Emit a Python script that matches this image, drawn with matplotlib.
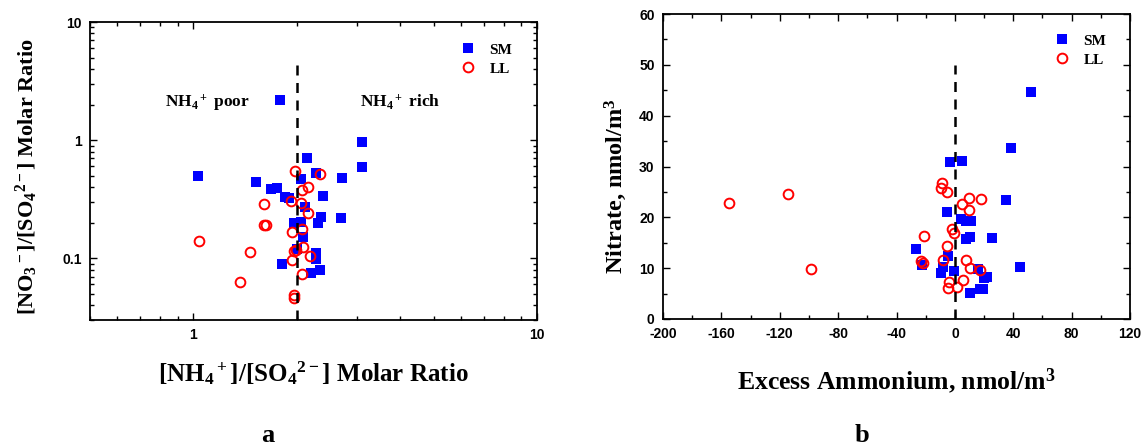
import matplotlib
matplotlib.use("Agg")
import matplotlib.pyplot as plt
from matplotlib.ticker import LogLocator, NullFormatter, FixedLocator, MultipleLocator, FixedFormatter
import numpy as np

# ---------------- data: panel a ----------------
sm_a_x = [1.79, 3.10, 2.14, 3.10, 2.28, 2.71, 2.06, 1.03, 1.52, 1.75, 1.68, 1.85, 1.90,
          2.38, 2.11, 2.35, 2.68, 2.31, 1.96, 2.05, 2.09, 2.00, 2.27, 2.27, 1.81, 2.20, 2.34]
sm_a_y = [2.18, 0.956, 0.70, 0.587, 0.53, 0.48, 0.465, 0.50, 0.443, 0.394, 0.382, 0.331, 0.325,
          0.335, 0.272, 0.225, 0.217, 0.198, 0.197, 0.203, 0.150, 0.12, 0.11, 0.099, 0.089, 0.075, 0.079]
ll_a_x = [1.97, 2.33, 2.16, 2.07, 1.61, 1.92, 2.06, 2.15, 1.60, 1.63, 2.07, 1.93, 1.04,
          1.46, 1.96, 1.99, 1.93, 2.09, 2.18, 2.07, 1.37, 1.96, 1.96]
ll_a_y = [0.55, 0.52, 0.40, 0.375, 0.288, 0.306, 0.296, 0.24, 0.193, 0.190, 0.176, 0.167, 0.140,
          0.113, 0.115, 0.118, 0.096, 0.124, 0.105, 0.074, 0.063, 0.0485, 0.046]

# ---------------- data: panel b ----------------
sm_b_x = [51.9, 38.4, -3.4, 4.6, 35.0, -5.5, 4.1, 7.3, 11.0, 7.5, 10.3, 25.1, -26.5, -5.0,
          -22.6, 44.3, -8.0, -0.9, -9.8, 16.0, 20.1, 22.2, 10.7, 17.1, 19.4]
sm_b_y = [44.7, 33.6, 30.9, 31.0, 23.4, 21.0, 19.6, 19.3, 19.3, 15.8, 16.1, 15.9, 13.8, 12.3,
          10.7, 10.3, 10.2, 9.5, 9.0, 9.8, 8.1, 8.2, 5.2, 5.9, 5.9]
ll_b_x = [-9.1, -9.8, -5.3, 9.8, 18.1, 4.8, 9.4, -1.8, -0.7, -21.0, -5.3, -7.8, -23.3, -21.5,
          7.5, 10.3, 17.4, 5.3, -4.3, -4.6, 1.4, -154.5, -114.5, -98.5]
ll_b_y = [26.7, 25.8, 24.9, 23.9, 23.7, 22.6, 21.5, 17.8, 16.9, 16.3, 14.4, 11.7, 11.5, 11.1,
          11.7, 10.0, 9.6, 7.7, 7.2, 6.1, 6.2, 22.8, 24.6, 9.9]

series_names = ["SM", "LL"]
xticks_a = [1, 10]
yticks_a = [0.1, 1, 10]
xticks_b = [-200, -160, -120, -80, -40, 0, 40, 80, 120]
yticks_b = [0, 10, 20, 30, 40, 50, 60]

plt.rcParams['font.family'] = ['Liberation Sans', 'DejaVu Sans']
plt.rcParams['font.weight'] = 'bold'
plt.rcParams['mathtext.fontset'] = 'custom'
plt.rcParams['mathtext.rm'] = 'Liberation Serif:bold'
plt.rcParams['mathtext.it'] = 'Liberation Serif:bold'
plt.rcParams['mathtext.bf'] = 'Liberation Serif:bold'
plt.rcParams['axes.unicode_minus'] = False

SERIF = dict(family='Liberation Serif', weight='bold')

fig = plt.figure(figsize=(11.42, 4.47), dpi=100)
W, H = 1142, 447

def px_axes(l, t, r, b):
    return fig.add_axes([l / W, 1 - b / H, (r - l) / W, (b - t) / H])

ax1 = px_axes(90, 22, 537, 320)
ax2 = px_axes(663, 14, 1130, 319)

sq = dict(marker='s', linestyle='none', color='#0000ff', markersize=7, markeredgewidth=0)
ci = dict(marker='o', linestyle='none', markerfacecolor='none', markeredgecolor='#ff0000',
          markersize=7, markeredgewidth=1.4)

def style(ax):
    for s in ax.spines.values():
        s.set_linewidth(1.3)
    ax.tick_params(which='both', direction='in', top=True, right=True, width=1.0,
                   labelsize=10, pad=6)
    ax.tick_params(which='major', length=5)
    ax.tick_params(which='minor', length=3)

# ---------------- panel a ----------------
ax1.plot(sm_a_x, sm_a_y, label=series_names[0], **sq)
ax1.plot(ll_a_x, ll_a_y, label=series_names[1], **ci)
ax1.plot([2, 2], [0.03, 4.5], color='black', linestyle=(0, (4, 3)), linewidth=1.8)
ax1.set_xscale('log')
ax1.set_yscale('log')
ax1.set_xlim(0.5, 10)
ax1.set_ylim(0.03, 10)
ax1.xaxis.set_major_locator(FixedLocator(xticks_a))
ax1.xaxis.set_major_formatter(FixedFormatter([str(v) for v in xticks_a]))
ax1.xaxis.set_minor_locator(LogLocator(base=10, subs=np.arange(2, 10)))
ax1.xaxis.set_minor_formatter(NullFormatter())
ax1.yaxis.set_major_locator(FixedLocator(yticks_a))
ax1.yaxis.set_major_formatter(FixedFormatter(['0.1', '1', '10']))
ax1.yaxis.set_minor_locator(LogLocator(base=10, subs=np.arange(2, 10)))
ax1.yaxis.set_minor_formatter(NullFormatter())
style(ax1)
ax1.set_xlabel(r'[NH$_4{}^+$]/[SO$_4{}^{2-}$] Molar Ratio', fontsize=18, labelpad=12, **SERIF)
ax1.set_ylabel(r'[NO$_3{}^-$]/[SO$_4{}^{2-}$] Molar Ratio', fontsize=16, **SERIF)
ax1.yaxis.set_label_coords(-0.112, 0.4815)
ax1.text(0.168, 0.715, r'NH$_4{}^+$ poor', transform=ax1.transAxes, fontsize=12.5, va='baseline', **SERIF)
ax1.text(0.604, 0.715, r'NH$_4{}^+$ rich', transform=ax1.transAxes, fontsize=12.5, va='baseline', **SERIF)
ax1.legend(loc='upper left', bbox_to_anchor=(0.812, 0.955), frameon=False,
           prop=dict(family='Liberation Serif', weight='bold', size=11),
           handlelength=1.0, handletextpad=0.9, labelspacing=0.35, borderpad=0)

# ---------------- panel b ----------------
ax2.plot(sm_b_x, sm_b_y, label=series_names[0], **sq)
ax2.plot(ll_b_x, ll_b_y, label=series_names[1], **ci)
ax2.plot([0, 0], [0, 50], color='black', linestyle=(0, (4, 3)), linewidth=1.8)
ax2.set_xlim(-200, 120)
ax2.set_ylim(0, 60)
ax2.set_xticks(xticks_b)
ax2.set_yticks(yticks_b)
ax2.xaxis.set_minor_locator(MultipleLocator(20))
ax2.yaxis.set_minor_locator(MultipleLocator(5))
style(ax2)
ax2.set_xlabel(r'Excess Ammonium, nmol/m$^3$', fontsize=18.5, labelpad=18, **SERIF)
ax2.set_ylabel(r'Nitrate, nmol/m$^3$', fontsize=17.5, **SERIF)
ax2.yaxis.set_label_coords(-0.073, 0.436)
ax2.legend(loc='upper left', bbox_to_anchor=(0.822, 0.96), frameon=False,
           prop=dict(family='Liberation Serif', weight='bold', size=11),
           handlelength=1.0, handletextpad=0.9, labelspacing=0.35, borderpad=0)

fig.text(268 / W, 1 - 446.5 / H, 'a', ha='center', va='bottom', fontsize=19, **SERIF)
fig.text(862 / W, 1 - 446.5 / H, 'b', ha='center', va='bottom', fontsize=19, **SERIF)

fig.savefig('out.png', dpi=100)
